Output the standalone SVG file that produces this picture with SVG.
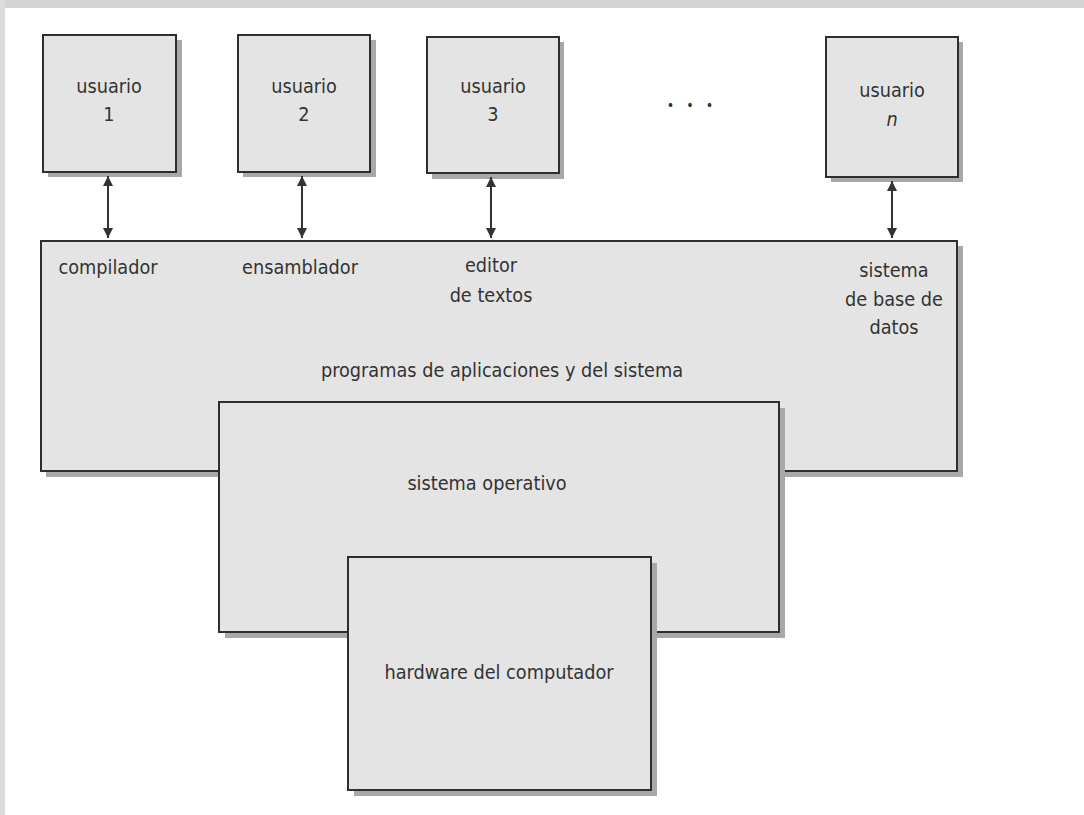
<svg xmlns="http://www.w3.org/2000/svg" width="1084" height="815" viewBox="0 0 1084 815">
<style>
.box{fill:#e4e4e4;stroke:#2e2e2e;stroke-width:2}
.sh{fill:#a8a8a8}
.t{font-family:"DejaVu Sans Condensed","DejaVu Sans","Liberation Sans",sans-serif;font-stretch:condensed;font-size:19.7px;fill:#333;text-anchor:middle}
.c{stroke:#333;stroke-width:2;fill:none;marker-start:url(#ah);marker-end:url(#ah)}
</style>
<defs>
<marker id="ah" viewBox="0 0 10 10" refX="10" refY="5" markerWidth="5" markerHeight="5" orient="auto-start-reverse" markerUnits="strokeWidth">
<path d="M0,0 L10,5 L0,10 z" fill="#333"/>
</marker>
</defs>
<rect x="0" y="0" width="1084" height="815" fill="#ffffff"/>
<rect x="0" y="0" width="1084" height="8" fill="#d4d4d4"/>
<rect x="0" y="0" width="5" height="815" fill="#dcdcdc"/>
<g id="usuario1">
<rect class="sh" x="48" y="40" width="134" height="137"/>
<rect class="box" x="43" y="35" width="133" height="137"/>
<text class="t" x="109" y="93">usuario</text>
<text class="t" x="109" y="121">1</text>
</g>
<g id="usuario2">
<rect class="sh" x="243" y="40" width="133" height="137"/>
<rect class="box" x="238" y="35" width="132" height="137"/>
<text class="t" x="304" y="93">usuario</text>
<text class="t" x="304" y="121">2</text>
</g>
<g id="usuario3">
<rect class="sh" x="432" y="42" width="132" height="137"/>
<rect class="box" x="427" y="37" width="132" height="136"/>
<text class="t" x="493" y="93">usuario</text>
<text class="t" x="493" y="121">3</text>
</g>
<g id="dots">
<text class="t" x="692" y="110" style="font-size:14px;letter-spacing:4px">• • •</text>
</g>
<g id="usuarion">
<rect class="sh" x="831" y="42" width="132" height="140"/>
<rect class="box" x="826" y="37" width="132" height="140"/>
<text class="t" x="892" y="97">usuario</text>
<text class="t" x="892" y="126" style="font-style:italic">n</text>
</g>
<g id="connectors">
<line class="c" x1="108" y1="176" x2="108" y2="238"/>
<line class="c" x1="302" y1="176" x2="302" y2="238"/>
<line class="c" x1="491" y1="177" x2="491" y2="238"/>
<line class="c" x1="892" y1="181" x2="892" y2="238"/>
</g>
<g id="programas">
<rect class="sh" x="46" y="246" width="917" height="231"/>
<rect class="box" x="41" y="241" width="916" height="230"/>
<text class="t" x="108" y="274">compilador</text>
<text class="t" x="300" y="274">ensamblador</text>
<text class="t" x="491" y="272">editor</text>
<text class="t" x="491" y="302">de textos</text>
<text class="t" x="894" y="277">sistema</text>
<text class="t" x="894" y="306">de base de</text>
<text class="t" x="894" y="334">datos</text>
<text class="t" x="502" y="377">programas de aplicaciones y del sistema</text>
</g>
<g id="sistema_operativo">
<rect class="sh" x="225" y="408" width="560" height="230"/>
<rect class="box" x="219" y="402" width="560" height="230"/>
<text class="t" x="487" y="490">sistema operativo</text>
</g>
<g id="hardware">
<rect class="sh" x="354" y="563" width="303" height="233"/>
<rect class="box" x="348" y="557" width="303" height="233"/>
<text class="t" x="499" y="679">hardware del computador</text>
</g>
</svg>
